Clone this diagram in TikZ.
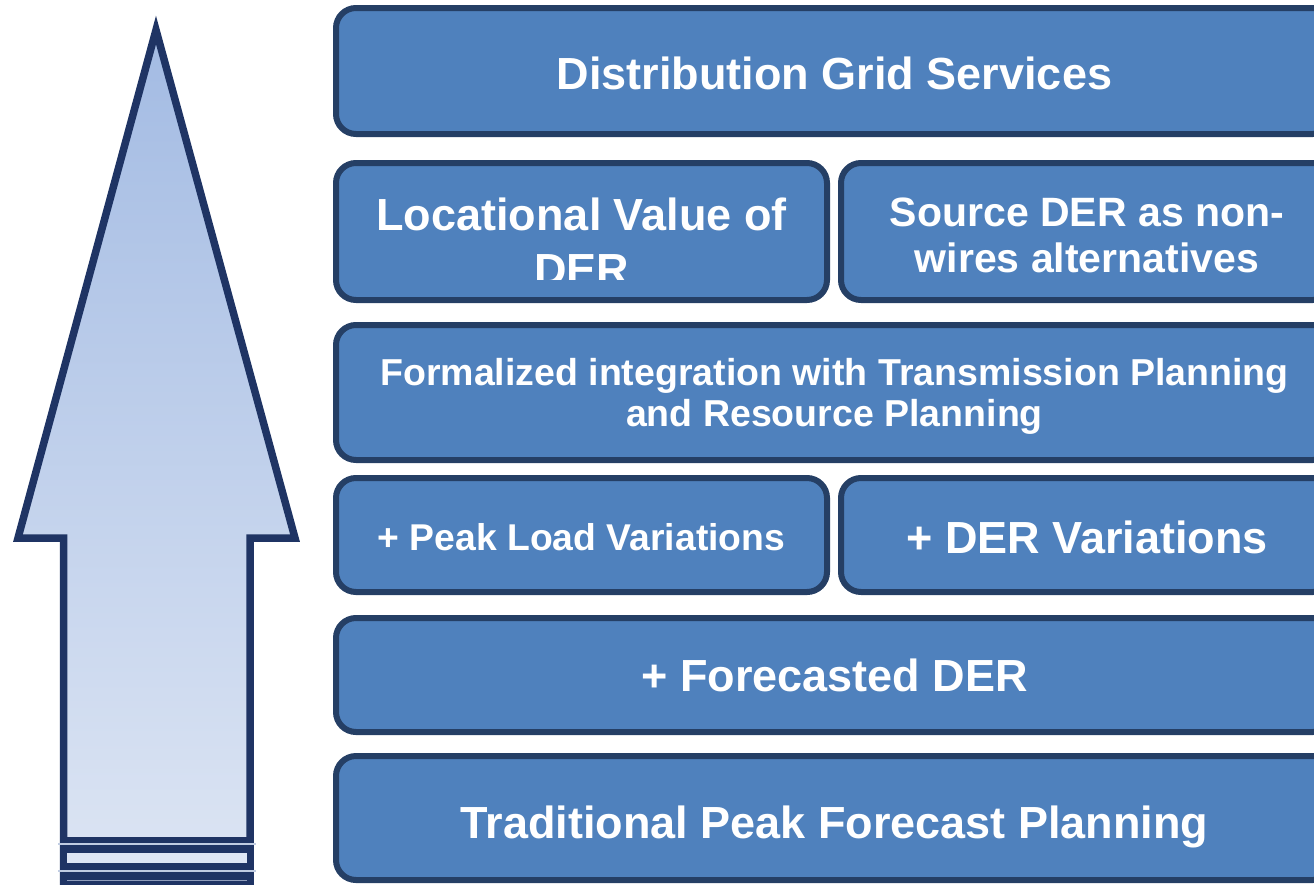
\documentclass[tikz,border=0pt]{standalone}
\usepackage{fontspec}
\setmainfont{Liberation Sans}
\definecolor{boxfill}{HTML}{4F81BD}
\definecolor{boxline}{HTML}{253F65}
\definecolor{arrline}{HTML}{1F3464}
\definecolor{arrtop}{HTML}{A3BBE3}
\definecolor{arrbot}{HTML}{DEE6F4}
\definecolor{stripe}{HTML}{C0CCE2}
\tikzset{
  blk/.style={draw=boxline, fill=boxfill, line width=6pt, rounded corners=20pt,
    inner sep=0pt, rectangle},
  txt/.style={text=white, inner sep=0pt, align=center},
  bigtxt/.style={font=\fontsize{45}{61}\selectfont\bfseries},
  lbl/.style={text=white, inner sep=0pt, anchor=base},
}
\begin{document}
\begin{tikzpicture}[x=1pt, y=-1pt]
\useasboundingbox (0,0) rectangle (1314,884);
\clip (0,0) rectangle (1314,884);
% arrow
\path[draw=arrline, line width=7.5pt, line join=miter, top color=arrtop, bottom color=arrbot]
  (63.5,900) -- (63.5,538) -- (18,538) -- (156,30) -- (295,538) -- (250,538) -- (250,900);
\fill[arrline] (59.75,837) rectangle (253.75,853);
\fill[arrbot] (67,853) rectangle (246.5,863);
\fill[arrline] (59.75,863) rectangle (253.75,895);
\draw[stripe, line width=1.5pt] (58,844) -- (256,844);
\draw[stripe, line width=1.5pt] (58,871) -- (256,871);
\draw[stripe!70!arrline, line width=1pt] (67,880) -- (247,880);
% boxes
\node[blk, minimum width=997pt, minimum height=126pt] (dgs) at (834.5,71) {};
\node[blk, minimum width=491pt, minimum height=137pt] (lv) at (581.5,231.5) {};
\node[blk, minimum width=492pt, minimum height=137pt] (src) at (1087,231.5) {};
\node[blk, minimum width=997pt, minimum height=135pt] (form) at (834.5,392.5) {};
\node[blk, minimum width=491pt, minimum height=114pt] (plv) at (581.5,535) {};
\node[blk, minimum width=492pt, minimum height=114pt] (derv) at (1087,535) {};
\node[blk, minimum width=997pt, minimum height=114pt] (fder) at (834.5,675) {};
\node[blk, minimum width=997pt, minimum height=124pt] (trad) at (834.5,818) {};
% texts
\node[txt, bigtxt] (dgs-t) at (834.5,73) {Distribution Grid Services};
\node[txt, font=\fontsize{41}{46}\selectfont\bfseries] (src-t) at (1087,235.5) {Source DER as non-\\wires alternatives};
\node[txt, font=\fontsize{37.5}{41}\selectfont\bfseries] (form-t) at (834.5,396.5) {Formalized integration with Transmission Planning\\and Resource Planning};
\node[txt, font=\fontsize{37.3}{42}\selectfont\bfseries] (plv-t) at (581.5,537) {+ Peak Load Variations};
\node[txt, bigtxt] (derv-t) at (1087,537) {+ DER Variations};
\node[txt, bigtxt] (fder-t) at (834.5,675) {+ Forecasted DER};
\node[txt, bigtxt] (trad-t) at (834.5,827) {Traditional Peak Forecast Planning};
% clipped text of locational value box
\begin{scope}
  \clip (340,165) rectangle (825,279);
  \node[lbl, bigtxt] (lv1) at (581.5,230) {Locational Value of};
  \node[lbl, bigtxt] (lv2) at (581.5,285) {DER};
\end{scope}
\end{tikzpicture}
\end{document}
